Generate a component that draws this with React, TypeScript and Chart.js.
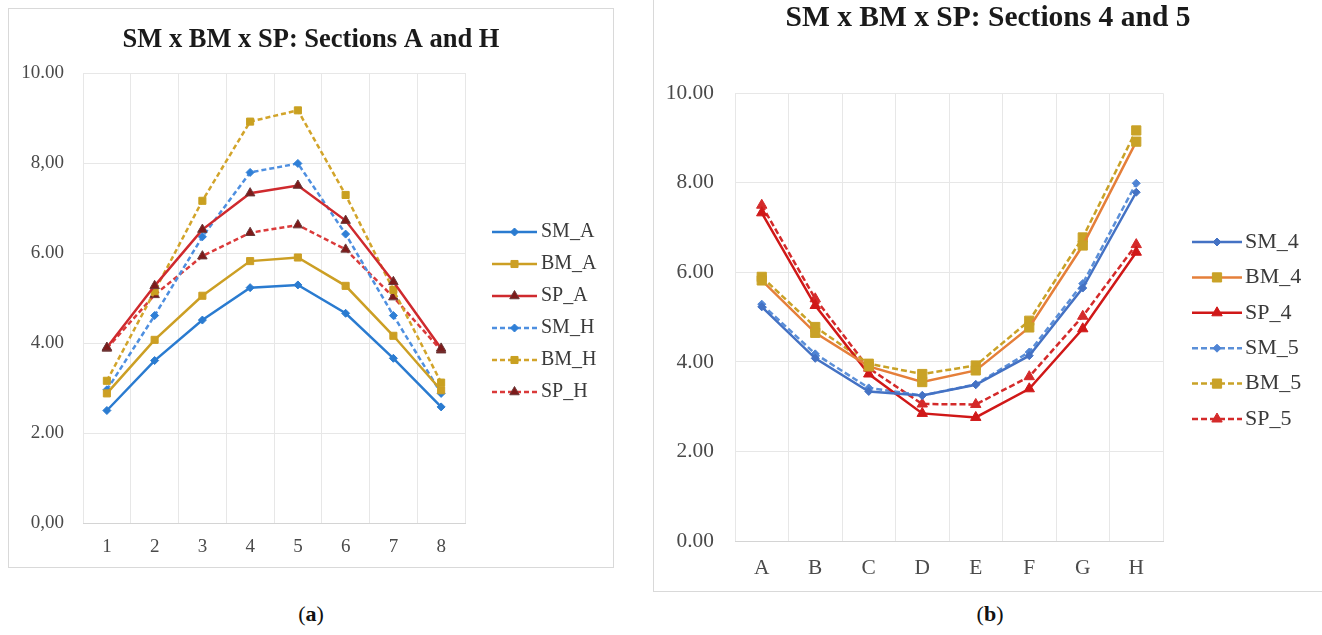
import React, { useEffect, useRef } from 'react';
import { Chart, registerables } from 'chart.js';

Chart.register(...registerables);

// ---------- Data: chart (a) ----------
const positionsA = ['1', '2', '3', '4', '5', '6', '7', '8'];
const SM_A = [2.5, 3.61, 4.51, 5.23, 5.29, 4.66, 3.66, 2.58];
const BM_A = [2.88, 4.07, 5.05, 5.82, 5.9, 5.27, 4.16, 2.95];
const SP_A = [3.9, 5.27, 6.52, 7.33, 7.5, 6.72, 5.36, 3.88];
const SM_H = [2.96, 4.61, 6.36, 7.79, 7.99, 6.42, 4.61, 2.88];
const BM_H = [3.16, 5.15, 7.16, 8.92, 9.17, 7.29, 5.18, 3.12];
const SP_H = [3.88, 5.07, 5.93, 6.45, 6.62, 6.08, 5.02, 3.84];
const yTickLabelsA = ['0,00', '2.00', '4.00', '6.00', '8,00', '10.00'];
const titleA = 'SM x BM x SP: Sections A and H';

// ---------- Data: chart (b) ----------
const sectionsB = ['A', 'B', 'C', 'D', 'E', 'F', 'G', 'H'];
const SM_4 = [5.23, 4.08, 3.34, 3.25, 3.49, 4.14, 5.65, 7.79];
const BM_4 = [5.82, 4.65, 3.9, 3.55, 3.81, 4.77, 6.6, 8.92];
const SP_4 = [7.33, 5.26, 3.73, 2.85, 2.76, 3.4, 4.74, 6.45];
const SM_5 = [5.29, 4.18, 3.42, 3.25, 3.5, 4.22, 5.75, 7.99];
const BM_5 = [5.9, 4.78, 3.96, 3.73, 3.92, 4.92, 6.78, 9.17];
const SP_5 = [7.5, 5.41, 3.86, 3.06, 3.05, 3.67, 5.02, 6.62];
const yTickLabelsB = ['0.00', '2.00', '4.00', '6.00', '8.00', '10.00'];
const titleB = 'SM x BM x SP: Sections 4 and 5';

const SERIF = '"Liberation Serif", "Times New Roman", serif';

function ds(
  label: string,
  data: number[],
  color: string,
  dash: number[],
  pointStyle: string,
  radius: number,
  pointBg: string,
  pointBorder: string,
  width: number
) {
  return {
    label,
    data,
    borderColor: color,
    backgroundColor: pointBg,
    borderWidth: width,
    borderDash: dash,
    pointStyle,
    pointRadius: radius,
    pointHoverRadius: radius,
    pointBackgroundColor: pointBg,
    pointBorderColor: pointBorder,
    pointBorderWidth: 1,
    tension: 0,
    fill: false,
  };
}

function drawMarker(
  ctx: CanvasRenderingContext2D,
  style: string,
  x: number,
  y: number,
  r: number,
  fill: string,
  stroke: string
) {
  ctx.beginPath();
  if (style === 'rectRot') {
    ctx.moveTo(x - r, y);
    ctx.lineTo(x, y - r);
    ctx.lineTo(x + r, y);
    ctx.lineTo(x, y + r);
  } else if (style === 'rect') {
    const s = r * Math.SQRT1_2;
    ctx.rect(x - s, y - s, 2 * s, 2 * s);
  } else {
    ctx.moveTo(x, y - r);
    ctx.lineTo(x + 0.866 * r, y + 0.5 * r);
    ctx.lineTo(x - 0.866 * r, y + 0.5 * r);
  }
  ctx.closePath();
  ctx.fillStyle = fill;
  ctx.fill();
  ctx.lineWidth = 1;
  ctx.strokeStyle = stroke;
  ctx.stroke();
}

type LegendOpts = { x0: number; len: number; textX: number; y0: number; spacing: number; fontSize: number };

function makeLegendPlugin(o: LegendOpts) {
  return {
    id: 'sideLegend',
    afterDraw(chart: any) {
      const ctx: CanvasRenderingContext2D = chart.ctx;
      chart.data.datasets.forEach((d: any, i: number) => {
        const y = o.y0 + i * o.spacing;
        ctx.save();
        ctx.strokeStyle = d.borderColor;
        ctx.lineWidth = d.borderWidth;
        ctx.setLineDash(d.borderDash || []);
        ctx.beginPath();
        ctx.moveTo(o.x0, y);
        ctx.lineTo(o.x0 + o.len, y);
        ctx.stroke();
        ctx.setLineDash([]);
        drawMarker(ctx, d.pointStyle, o.x0 + o.len / 2, y, d.pointRadius, d.pointBackgroundColor, d.pointBorderColor);
        ctx.fillStyle = '#3a3a3a';
        ctx.font = `${o.fontSize}px ${SERIF}`;
        ctx.textBaseline = 'middle';
        ctx.textAlign = 'left';
        ctx.fillText(d.label, o.textX, y);
        ctx.restore();
      });
    },
  };
}

type Params = {
  labels: string[];
  datasets: any[];
  yLabels: string[];
  title: string;
  titleSize: number;
  titlePad: { top: number; bottom: number };
  yAxisWidth: number;
  rightWidth: number;
  xAxisHeight: number;
  tickSize: number;
  yTickPad: number;
  xTickPad: number;
  legend: LegendOpts;
};

function buildConfig(p: Params): any {
  return {
    type: 'line',
    data: { labels: p.labels, datasets: p.datasets },
    plugins: [makeLegendPlugin(p.legend)],
    options: {
      responsive: false,
      animation: false,
      devicePixelRatio: 1,
      layout: { padding: 0 },
      plugins: {
        legend: { display: false },
        tooltip: { enabled: false },
        title: {
          display: true,
          text: p.title,
          color: '#1a1a1a',
          font: { family: SERIF, size: p.titleSize, weight: 'bold' },
          padding: p.titlePad,
        },
      },
      scales: {
        x: {
          type: 'category',
          offset: true,
          grid: { offset: true, color: '#e7e7e7', lineWidth: 1, drawTicks: false },
          border: { display: true, color: '#d4d4d4' },
          ticks: { color: '#4a4a4a', font: { family: SERIF, size: p.tickSize }, padding: p.xTickPad, maxRotation: 0, autoSkip: false },
          afterFit: (s: any) => {
            s.height = p.xAxisHeight;
          },
        },
        y: {
          min: 0,
          max: 10,
          grid: { color: '#e7e7e7', lineWidth: 1, drawTicks: false },
          border: { display: false },
          ticks: {
            stepSize: 2,
            color: '#4a4a4a',
            font: { family: SERIF, size: p.tickSize },
            padding: p.yTickPad,
            callback: (v: number) => p.yLabels[Math.round(v / 2)],
          },
          afterFit: (s: any) => {
            s.width = p.yAxisWidth;
          },
        },
        yRight: {
          position: 'right',
          min: 0,
          max: 10,
          grid: { display: false, drawTicks: false },
          border: { display: false },
          ticks: { display: false },
          afterFit: (s: any) => {
            s.width = p.rightWidth;
          },
        },
      },
    },
  };
}

function ChartCanvas({ params, left, top, width, height }: { params: Params; left: number; top: number; width: number; height: number }) {
  const ref = useRef<HTMLCanvasElement>(null);
  useEffect(() => {
    const chart = new Chart(ref.current as HTMLCanvasElement, buildConfig(params));
    return () => chart.destroy();
  }, []);
  return (
    <canvas
      ref={ref}
      width={width}
      height={height}
      style={{ position: 'absolute', left, top, width, height }}
    />
  );
}

const paramsA: Params = {
  labels: positionsA,
  datasets: [
    ds('SM_A', SM_A, '#2a7bd0', [], 'rectRot', 4, '#2a7bd0', '#2a7bd0', 2.5),
    ds('BM_A', BM_A, '#cc9f24', [], 'rect', 5, '#cc9f24', '#cc9f24', 2.5),
    ds('SP_A', SP_A, '#cf2a2e', [], 'triangle', 5.5, '#7e1a1a', '#6a3a3a', 2.5),
    ds('SM_H', SM_H, '#4e8fe0', [5, 3], 'rectRot', 4, '#2f7fd6', '#2f7fd6', 2.5),
    ds('BM_H', BM_H, '#d2a42a', [5, 3], 'rect', 5, '#c9a020', '#c9a020', 2.5),
    ds('SP_H', SP_H, '#da3a3a', [5, 3], 'triangle', 5.5, '#7e1a1a', '#6a3a3a', 2.5),
  ],
  yLabels: yTickLabelsA,
  title: titleA,
  titleSize: 26.5,
  titlePad: { top: 15, bottom: 17.2 },
  yAxisWidth: 74,
  rightWidth: 148,
  xAxisHeight: 44,
  tickSize: 19,
  yTickPad: 19,
  xTickPad: 12.6,
  legend: { x0: 483, len: 45, textX: 532, y0: 223, spacing: 32, fontSize: 20 },
};

const paramsB: Params = {
  labels: sectionsB,
  datasets: [
    ds('SM_4', SM_4, '#4472c4', [], 'rectRot', 4, '#4472c4', '#4472c4', 2.5),
    ds('BM_4', BM_4, '#e57f3a', [], 'rect', 6.5, '#c9a227', '#c9a227', 2.5),
    ds('SP_4', SP_4, '#d01818', [], 'triangle', 6, '#d01818', '#d01818', 2.5),
    ds('SM_5', SM_5, '#5b8fd8', [6, 3], 'rectRot', 4, '#4f84d4', '#4f84d4', 2.5),
    ds('BM_5', BM_5, '#c9a227', [6, 3], 'rect', 6.5, '#c9a227', '#c9a227', 2.5),
    ds('SP_5', SP_5, '#d42a2a', [6, 3], 'triangle', 6, '#d42a2a', '#d42a2a', 2.5),
  ],
  yLabels: yTickLabelsB,
  title: titleB,
  titleSize: 29.5,
  titlePad: { top: 0.3, bottom: 57.6 },
  yAxisWidth: 81,
  rightWidth: 159,
  xAxisHeight: 50,
  tickSize: 21.4,
  yTickPad: 21,
  xTickPad: 14.2,
  legend: { x0: 538, len: 50, textX: 591, y0: 242, spacing: 35.4, fontSize: 22 },
};

export default function App() {
  return (
    <div
      style={{
        position: 'absolute',
        left: 0,
        top: 0,
        width: 1322,
        height: 635,
        overflow: 'hidden',
        background: '#ffffff',
        fontFamily: SERIF,
      }}
    >
      <div
        style={{
          position: 'absolute',
          left: 8,
          top: 8,
          width: 606,
          height: 560,
          boxSizing: 'border-box',
          border: '1px solid #d9d9d9',
        }}
      />
      <ChartCanvas params={paramsA} left={9} top={9} width={604} height={558} />
      <div
        style={{
          position: 'absolute',
          left: 653,
          top: -4,
          width: 700,
          height: 596,
          boxSizing: 'border-box',
          border: '1px solid #d9d9d9',
        }}
      />
      <ChartCanvas params={paramsB} left={654} top={0} width={668} height={591} />
      <div
        style={{
          position: 'absolute',
          left: 261,
          top: 600,
          width: 100,
          textAlign: 'center',
          fontSize: 22,
          lineHeight: '28px',
          color: '#111',
        }}
      >
        (<b>a</b>)
      </div>
      <div
        style={{
          position: 'absolute',
          left: 940,
          top: 600,
          width: 100,
          textAlign: 'center',
          fontSize: 22,
          lineHeight: '28px',
          color: '#111',
        }}
      >
        (<b>b</b>)
      </div>
    </div>
  );
}
